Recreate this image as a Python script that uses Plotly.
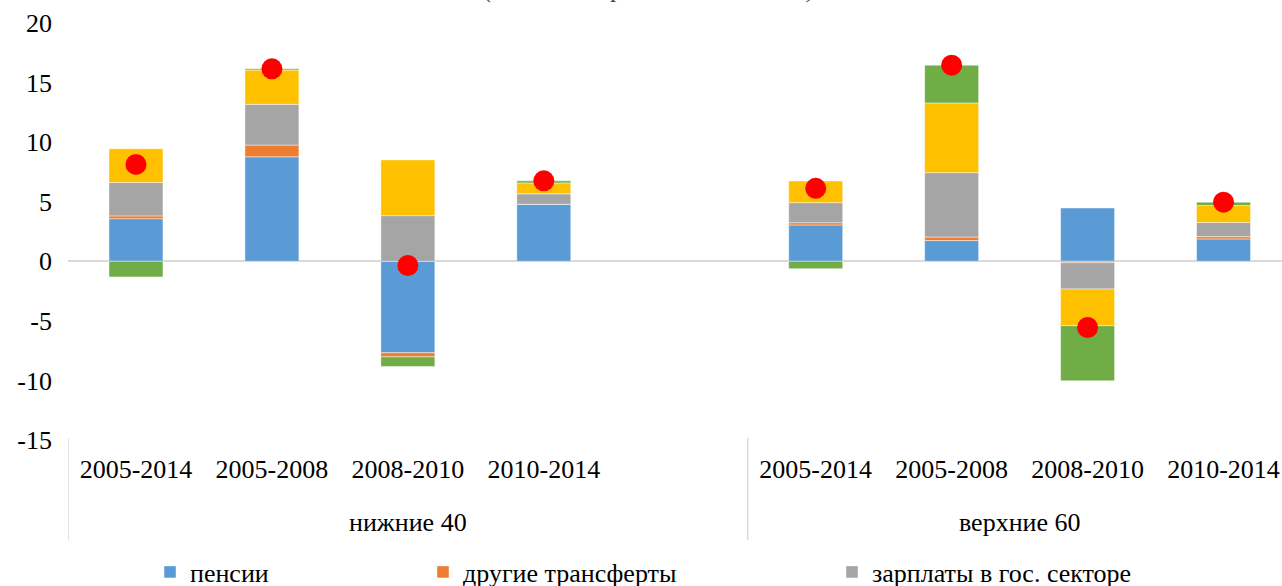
import plotly.graph_objects as go

# ---- data ----
groups = ["нижние 40"] * 5 + ["верхние 60"] * 4
periods = ["2005-2014", "2005-2008", "2008-2010", "2010-2014", " ",
           "2005-2014", "2005-2008", "2008-2010", "2010-2014"]

pensions = [3.58, 8.77, -7.68, 4.79, None, 3.05, 1.74, 4.47, 1.88]
other_transfers = [0.23, 0.98, -0.34, 0.0, None, 0.19, 0.29, -0.12, 0.19]
public_wages = [2.80, 3.42, 3.83, 0.87, None, 1.68, 5.41, -2.21, 1.18]
private_wages = [2.83, 2.88, 4.68, 0.92, None, 1.82, 5.85, -3.08, 1.43]
other_income = [-1.31, 0.10, -0.81, 0.17, None, -0.62, 3.17, -4.62, 0.28]
total_growth = [8.13, 16.15, -0.35, 6.75, None, 6.12, 16.46, -5.56, 4.96]

y_tickvals = [-15, -10, -5, 0, 5, 10, 15, 20]
y_ticktext = ["-15", "-10", "-5", "0", "5", "10", "15", "20"]

title_text = "(изменение реальных доходов)"

series = [
    ("пенсии", pensions, "#5B9BD5", True, "legend"),
    ("другие трансферты", other_transfers, "#ED7D31", True, "legend2"),
    ("зарплаты в гос. секторе", public_wages, "#A5A5A5", True, "legend3"),
    ("зарплаты в частном секторе", private_wages, "#FFC000", False, "legend"),
    ("другие доходы", other_income, "#70AD47", False, "legend"),
]

FONT = "Liberation Serif, DejaVu Serif, serif"
W, H = 1282, 586
ML, MT, MB = 68, 23, 146
PLOT_H = H - MT - MB

# unique category keys (group|period), labelled with the period only
keys = [f"{g}|{p}" for g, p in zip(groups, periods)]

fig = go.Figure()
for name, vals, color, show, leg in series:
    fig.add_trace(go.Bar(
        x=keys, y=vals, name=name, showlegend=show, legend=leg,
        marker=dict(color=color, line=dict(color="rgba(255,255,255,0.6)", width=0.75)),
    ))

fig.add_trace(go.Scatter(
    x=keys, y=total_growth, name="общий рост дохода", mode="markers",
    marker=dict(color="#FF0000", size=21), showlegend=False,
))

# group labels and dividers derived from the group list
group_names = []
for g in groups:
    if g not in group_names:
        group_names.append(g)
annotations = []
shapes = []
start = 0
div_y1 = -(540 - (MT + PLOT_H)) / PLOT_H
for g in group_names:
    n = groups.count(g)
    center = start + (n - 1) / 2
    annotations.append(dict(
        text=g, x=center, xref="x", y=0, yref="paper", yanchor="middle",
        yshift=-82, showarrow=False,
        font=dict(family=FONT, size=26, color="#000000"),
    ))
    shapes.append(dict(
        type="line", xref="x", yref="paper", x0=start - 0.5, x1=start - 0.5,
        y0=0.005, y1=div_y1, line=dict(color="#D9D9D9", width=1.5),
    ))
    start += n
shapes.append(dict(
    type="line", xref="x", yref="paper", x0=start - 0.5, x1=start - 0.5,
    y0=0.005, y1=div_y1, line=dict(color="#D9D9D9", width=1.5),
))

annotations.append(dict(
    text=title_text, xref="paper", yref="paper",
    x=(650 - ML) / (W - ML), y=1, yanchor="bottom", yshift=18, showarrow=False,
    font=dict(family=FONT, size=26, color="#404040", style="italic"),
))


def leg(xpx):
    return dict(orientation="h", xref="container", yref="container",
                x=xpx / W, xanchor="left", y=1 - 572 / H, yanchor="middle",
                font=dict(family=FONT, size=26, color="#000000"),
                bgcolor="rgba(0,0,0,0)", itemwidth=30)


fig.update_layout(
    width=W, height=H,
    margin=dict(l=ML, r=0, t=MT, b=MB, autoexpand=False),
    barmode="relative", bargap=0.603,
    plot_bgcolor="white", paper_bgcolor="white",
    font=dict(family=FONT, size=26, color="#000000"),
    legend=leg(150), legend2=leg(423), legend3=leg(832),
    xaxis=dict(
        type="category", range=[-0.5, 8.43],
        tickvals=keys, ticktext=periods,
        showgrid=False, showline=False, ticks="",
        ticklabelstandoff=11,
        tickfont=dict(family=FONT, size=26, color="#000000"),
    ),
    yaxis=dict(
        range=[-15, 20], tickvals=y_tickvals, ticktext=y_ticktext,
        showgrid=False, showline=False, zeroline=True,
        zerolinecolor="#D9D9D9", zerolinewidth=2,
        ticklabelstandoff=15,
        tickfont=dict(family=FONT, size=26, color="#000000"),
    ),
    annotations=annotations,
    shapes=shapes,
)

fig.write_html("out.html", config={"displayModeBar": False},
               post_script="document.body.style.margin='0';")
